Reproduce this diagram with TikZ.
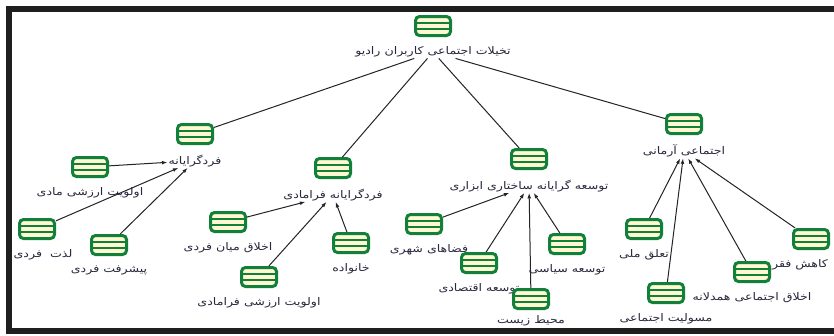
\documentclass[tikz,border=0pt]{standalone}
\usepackage{fontspec}
\newfontfamily\arabicfont[Script=Arabic,FakeStretch=1.2]{DejaVu Sans}
\TeXXeTstate=1
\usetikzlibrary{positioning}
\usetikzlibrary{arrows.meta}
\definecolor{icon_green}{RGB}{16,128,58}
\definecolor{icon_fill}{RGB}{255,248,208}
\definecolor{lbl_text}{RGB}{40,40,62}
\definecolor{edge_gray}{RGB}{35,35,40}

\begin{document}
\begin{tikzpicture}[x=1pt,y=-1pt,>={Latex[length=5.5pt,width=3.8pt]},
	icon/.style={draw=icon_green,fill=icon_fill,line width=3pt,rounded corners=4pt,minimum width=35pt,minimum height=19pt,inner sep=0pt,
		path picture={\draw[icon_green,line width=2pt] ([yshift=2.8pt]path picture bounding box.west) -- ([yshift=2.8pt]path picture bounding box.east);
			\draw[icon_green,line width=2pt] ([yshift=-2.8pt]path picture bounding box.west) -- ([yshift=-2.8pt]path picture bounding box.east);}},
	lbl/.style={font=\arabicfont\fontsize{10.5}{12}\selectfont,text=lbl_text,inner sep=1pt,below=8.5pt of #1},
	link/.style={draw=edge_gray,line width=1pt}]
	\useasboundingbox (0,0) rectangle (834,335);

	% root
	\node [icon] at (433,26) (root) {};
	\node [lbl=root] (root_lbl) {\beginR تخیلات اجتماعی کاربران رادیو\endR};

	% first branch
	\node [icon] at (195,134) (indiv) {};
	\node [lbl=indiv] (indiv_lbl) {\beginR فردگرایانه\endR};
	\node [icon] at (90,167) (mat_val) {};
	\node [lbl=mat_val] (mat_val_lbl) {\beginR اولویت ارزشی مادی\endR};
	\node [icon] at (37,229) (pleasure) {};
	\node [lbl=pleasure,xshift=6pt] (pleasure_lbl) {\beginR لذت~~فردی\endR};
	\node [icon] at (109,245) (progress) {};
	\node [lbl=progress] (progress_lbl) {\beginR پیشرفت فردی\endR};

	% second branch
	\node [icon] at (333,168) (postmat) {};
	\node [lbl=postmat] (postmat_lbl) {\beginR فردگرایانه فرامادی\endR};
	\node [icon] at (228,222) (ethics) {};
	\node [lbl=ethics] (ethics_lbl) {\beginR اخلاق میان فردی\endR};
	\node [icon] at (351,243) (family) {};
	\node [lbl=family] (family_lbl) {\beginR خانواده\endR};
	\node [icon] at (259,277) (post_val) {};
	\node [lbl=post_val] (post_val_lbl) {\beginR اولویت ارزشی فرامادی\endR};

	% third branch
	\node [icon] at (529,159) (devel) {};
	\node [lbl=devel] (devel_lbl) {\beginR توسعه گرایانه ساختاری ابزاری\endR};
	\node [icon] at (424,224) (urban) {};
	\node [lbl=urban,xshift=5pt] (urban_lbl) {\beginR فضاهای شهری\endR};
	\node [icon] at (479,263) (econ) {};
	\node [lbl=econ] (econ_lbl) {\beginR توسعه اقتصادی\endR};
	\node [icon] at (567,244) (polit) {};
	\node [lbl=polit] (polit_lbl) {\beginR توسعه سیاسی\endR};
	\node [icon] at (531,299) (environ) {};
	\node [lbl=environ,yshift=4pt] (environ_lbl) {\beginR محیط زیست\endR};

	% fourth branch
	\node [icon] at (684,124) (ideal) {};
	\node [lbl=ideal] (ideal_lbl) {\beginR اجتماعی آرمانی\endR};
	\node [icon] at (644,229) (nation) {};
	\node [lbl=nation] (nation_lbl) {\beginR تعلق ملی\endR};
	\node [icon] at (666,293) (respons) {};
	\node [lbl=respons] (respons_lbl) {\beginR مسولیت اجتماعی\endR};
	\node [icon] at (752,272) (empathy) {};
	\node [lbl=empathy] (empathy_lbl) {\beginR اخلاق اجتماعی همدلانه\endR};
	\node [icon] at (811,239) (poverty) {};
	\node [lbl=poverty,xshift=-11pt] (poverty_lbl) {\beginR کاهش فقر\endR};

	% links
	\foreach \child in {indiv,postmat,devel,ideal}
		\draw [link] (root_lbl) -- (\child);
	\foreach \child in {mat_val,pleasure,progress}
		\draw [link,->] (\child) -- (indiv_lbl);
	\foreach \child in {ethics,family,post_val}
		\draw [link,->] (\child) -- (postmat_lbl);
	\foreach \child in {urban,econ,polit,environ}
		\draw [link,->] (\child) -- (devel_lbl);
	\foreach \child in {nation,respons,empathy,poverty}
		\draw [link,->] (\child) -- (ideal_lbl);

	% frame
	\draw [line width=6pt,black!88] (834,9) -- (9,9) -- (9,331) -- (834,331);
\end{tikzpicture}
\end{document}
